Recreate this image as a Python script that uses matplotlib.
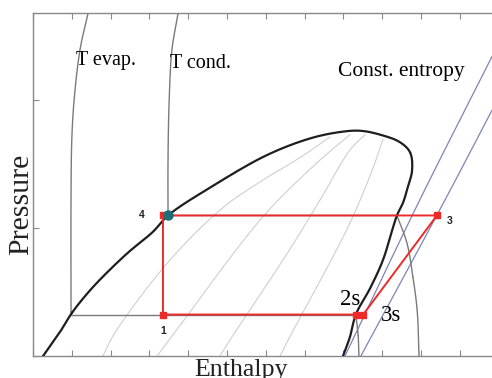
import matplotlib
matplotlib.use("Agg")
import numpy as np
import matplotlib.pyplot as plt
from matplotlib.ticker import MultipleLocator

# saturation dome (enthalpy, pressure) in tick units
dome_h = [0.26, 0.70, 1.01, 1.55, 2.42, 3.09, 3.48, 4.64, 6.03, 7.14, 7.91, 8.43, 8.94,
          9.46, 9.72, 9.77, 9.66, 9.54, 9.38, 9.02, 8.69, 8.32, 8.17, 7.99]
dome_p = [0.00, 0.19, 0.34, 0.54, 0.80, 0.97, 1.098, 1.33, 1.57, 1.70, 1.75, 1.76, 1.73,
          1.67, 1.59, 1.45, 1.32, 1.20, 1.098, 0.75, 0.53, 0.324, 0.15, 0.00]

# isotherms
tevap_h = [1.42, 1.21, 1.06, 1.00, 0.98, 0.98, 8.32, 8.38, 8.40]
tevap_p = [2.68, 2.39, 2.00, 1.69, 1.22, 0.324, 0.324, 0.16, 0.00]
tcond_h = [3.74, 3.58, 3.51, 3.48, 3.48, 9.38, 9.64, 9.79, 9.90, 9.95]
tcond_p = [2.68, 2.39, 2.00, 1.53, 1.098, 1.098, 0.88, 0.62, 0.36, 0.00]

# constant quality lines inside the dome
quality_h = [
    [1.80, 2.11, 3.53, 4.90, 5.85, 6.88, 7.65],
    [3.20, 3.84, 5.93, 7.32, 8.17],
    [4.82, 5.13, 6.55, 7.40, 8.17, 8.56],
    [6.37, 6.62, 7.65, 8.17, 8.69, 9.02],
]
quality_p = [
    [0.00, 0.18, 0.75, 1.16, 1.36, 1.55, 1.71],
    [0.00, 0.26, 1.09, 1.51, 1.73],
    [0.00, 0.15, 0.80, 1.22, 1.61, 1.73],
    [0.00, 0.15, 0.73, 1.04, 1.41, 1.69],
]

# constant entropy lines
entropy_h = [[8.04, 9.97, 11.83], [8.45, 10.62, 11.83]]
entropy_p = [[0.00, 1.22, 2.34], [0.00, 1.22, 1.92]]

# cycle states
h1, h4, h3, h2s, h3s = 3.35, 3.35, 10.41, 8.32, 8.51
p_evap, p_cond = 0.324, 1.098

serif = "Liberation Serif"


def smooth(h, p, n=16):
    # centripetal catmull-rom through the read points (y scaled to pixel aspect)
    P = np.column_stack([h, np.array(p) * 3.3])
    P = np.vstack([2 * P[0] - P[1], P, 2 * P[-1] - P[-2]])
    out = []
    for i in range(1, len(P) - 2):
        p0, p1, p2, p3 = P[i - 1], P[i], P[i + 1], P[i + 2]
        t0 = 0.0
        t1 = t0 + np.linalg.norm(p1 - p0) ** 0.5 + 1e-9
        t2 = t1 + np.linalg.norm(p2 - p1) ** 0.5 + 1e-9
        t3 = t2 + np.linalg.norm(p3 - p2) ** 0.5 + 1e-9
        t = np.linspace(t1, t2, n)[:, None]
        a1 = (t1 - t) / (t1 - t0) * p0 + (t - t0) / (t1 - t0) * p1
        a2 = (t2 - t) / (t2 - t1) * p1 + (t - t1) / (t2 - t1) * p2
        a3 = (t3 - t) / (t3 - t2) * p2 + (t - t2) / (t3 - t2) * p3
        b1 = (t2 - t) / (t2 - t0) * a1 + (t - t0) / (t2 - t0) * a2
        b2 = (t3 - t) / (t3 - t1) * a2 + (t - t1) / (t3 - t1) * a3
        c = (t2 - t) / (t2 - t1) * b1 + (t - t1) / (t2 - t1) * b2
        out.append(c)
    out = np.vstack(out)
    return out[:, 0], out[:, 1] / 3.3


fig = plt.figure(figsize=(4.92, 3.78), dpi=100)
ax = fig.add_axes([33 / 492, 22 / 378, 459 / 492, 343 / 378])

# quality lines
for qh, qp in zip(quality_h, quality_p):
    ax.plot(*smooth(qh, qp), color="#cfcfcf", lw=0.8, zorder=1)

# isentropes
for eh, ep in zip(entropy_h, entropy_p):
    ax.plot(*smooth(eh, ep), color="#7f84b4", lw=0.9, zorder=2)

# isotherms: curved top part, then straight through the dome
ax.plot(*smooth(tevap_h[:6], tevap_p[:6]), color="#7a7a7a", lw=1.0, zorder=2)
ax.plot(tevap_h[5:7], tevap_p[5:7], color="#7a7a7a", lw=1.0, zorder=2)
ax.plot(*smooth(tevap_h[6:], tevap_p[6:]), color="#7a7a7a", lw=1.0, zorder=2)
ax.plot(*smooth(tcond_h[:5], tcond_p[:5]), color="#7a7a7a", lw=1.0, zorder=2)
ax.plot(tcond_h[4:6], tcond_p[4:6], color="#7a7a7a", lw=1.0, zorder=2)
ax.plot(*smooth(tcond_h[5:], tcond_p[5:]), color="#7a7a7a", lw=1.0, zorder=2)

# dome
ax.plot(*smooth(dome_h, dome_p), color="#1e1e1e", lw=1.6, zorder=3)

# refrigeration cycle
red = "#ec2a2a"
ax.plot([h1, h4, h3, h3s, h1], [p_evap, p_cond, p_cond, p_evap, p_evap],
        color=red, lw=1.4, zorder=4)
ax.plot([h1, h4, h3, h2s, h3s], [p_evap, p_cond, p_cond, p_evap, p_evap],
        ls="none", marker="s", ms=5, color=red, zorder=5)
ax.plot([3.48], [p_cond], ls="none", marker="o", ms=6.5, color="#1c6f74", zorder=6)

# state labels
num_font = dict(family="Liberation Sans", fontweight="bold", fontsize=7.5, color="#222222")
ax.text(h1, 0.195, "1", ha="center", va="center", **num_font)
ax.text(2.81, 1.10, "4", ha="center", va="center", **num_font)
ax.text(10.75, 1.055, "3", ha="center", va="center", **num_font)
ax.text(8.17, 0.44, "2s", ha="center", va="center", family=serif, fontsize=16.5)
ax.text(9.23, 0.316, "3s", ha="center", va="center", family=serif, fontsize=16.5)

ax.text(1.11, 2.27, "T evap.", ha="left", va="baseline", family=serif, fontsize=14.5)
ax.text(3.53, 2.25, "T cond.", ha="left", va="baseline", family=serif, fontsize=14.5)
ax.text(7.86, 2.19, "Const. entropy", ha="left", va="baseline", family=serif, fontsize=15.5)

# axes styling
ax.set_xlim(0, 11.83)
ax.set_ylim(0, 2.68)
ax.xaxis.set_major_locator(MultipleLocator(1))
ax.yaxis.set_major_locator(MultipleLocator(1))
ax.tick_params(direction="in", top=True, bottom=True, left=True, right=False,
               length=4, width=0.8, color="#888888",
               labelbottom=False, labelleft=False)
for side in ["left", "bottom", "top"]:
    ax.spines[side].set_color("#888888")
    ax.spines[side].set_linewidth(1.0)
ax.spines["right"].set_visible(False)

fig.text(21 / 492, 1 - 204 / 378, "Pressure", rotation=90, ha="center", va="center",
         family=serif, fontsize=21.5, color="#222222")
# the reference crops the descenders of this label at the bottom edge
fig.text(241.5 / 492, 2 / 378, "Enthalpy", ha="center", va="baseline",
         family=serif, fontsize=18.7, color="#222222")

fig.savefig("out.png", dpi=100)
